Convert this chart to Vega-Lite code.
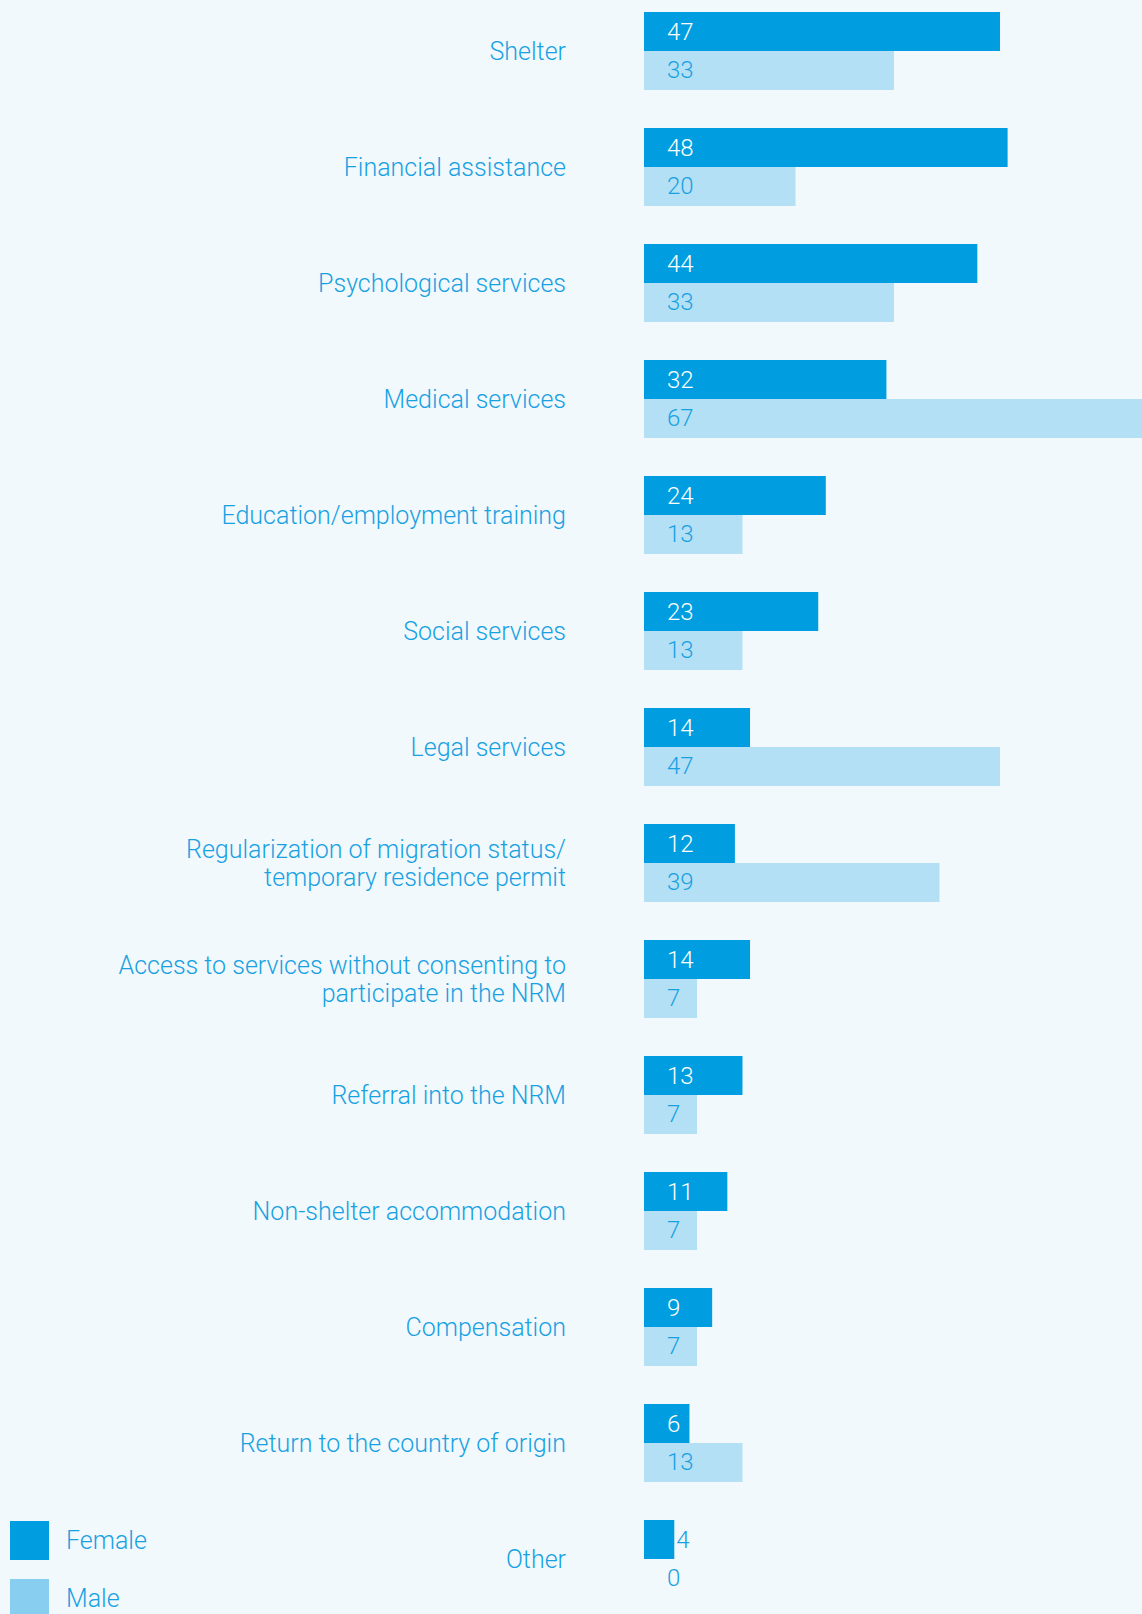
{
  "$schema": "https://vega.github.io/schema/vega-lite/v6.json",
  "autosize": {"type": "none"},
  "width": 498,
  "height": 1610,
  "padding": {"left": 644, "top": 0, "right": 0, "bottom": 4},
  "background": "#f2f9fd",
  "config": {"view": {"stroke": null}, "font": "Roboto"},
  "data": {"values": [
    {"category": "Shelter", "sex": "Female", "value": 47},
    {"category": "Shelter", "sex": "Male", "value": 33},
    {"category": "Financial assistance", "sex": "Female", "value": 48},
    {"category": "Financial assistance", "sex": "Male", "value": 20},
    {"category": "Psychological services", "sex": "Female", "value": 44},
    {"category": "Psychological services", "sex": "Male", "value": 33},
    {"category": "Medical services", "sex": "Female", "value": 32},
    {"category": "Medical services", "sex": "Male", "value": 67},
    {"category": "Education/employment training", "sex": "Female", "value": 24},
    {"category": "Education/employment training", "sex": "Male", "value": 13},
    {"category": "Social services", "sex": "Female", "value": 23},
    {"category": "Social services", "sex": "Male", "value": 13},
    {"category": "Legal services", "sex": "Female", "value": 14},
    {"category": "Legal services", "sex": "Male", "value": 47},
    {"category": "Regularization of migration status/|temporary residence permit", "sex": "Female", "value": 12},
    {"category": "Regularization of migration status/|temporary residence permit", "sex": "Male", "value": 39},
    {"category": "Access to services without consenting to|participate in the NRM", "sex": "Female", "value": 14},
    {"category": "Access to services without consenting to|participate in the NRM", "sex": "Male", "value": 7},
    {"category": "Referral into the NRM", "sex": "Female", "value": 13},
    {"category": "Referral into the NRM", "sex": "Male", "value": 7},
    {"category": "Non-shelter accommodation", "sex": "Female", "value": 11},
    {"category": "Non-shelter accommodation", "sex": "Male", "value": 7},
    {"category": "Compensation", "sex": "Female", "value": 9},
    {"category": "Compensation", "sex": "Male", "value": 7},
    {"category": "Return to the country of origin", "sex": "Female", "value": 6},
    {"category": "Return to the country of origin", "sex": "Male", "value": 13},
    {"category": "Other", "sex": "Female", "value": 4},
    {"category": "Other", "sex": "Male", "value": 0}
  ]},
  "encoding": {
    "y": {
      "field": "category", "type": "nominal", "sort": null,
      "scale": {"paddingInner": 0.32759, "paddingOuter": 0.10345},
      "axis": null
    }
  },
  "layer": [
    {
      "mark": {"type": "bar", "clip": true, "cornerRadius": 0},
      "encoding": {
        "yOffset": {"field": "sex", "type": "nominal", "sort": ["Female", "Male"], "scale": {"paddingInner": 0, "paddingOuter": 0}},
        "x": {"field": "value", "type": "quantitative", "scale": {"domain": [0, 65.74], "nice": false, "zero": true}, "axis": null},
        "color": {
          "field": "sex", "type": "nominal",
          "scale": {"domain": ["Female", "Male"], "range": ["#009ee0", "#87cef0"]},
          "legend": {
            "title": null, "orient": "none", "legendX": -634, "legendY": 1521,
            "padding": 0, "symbolType": "square", "symbolSize": 1521,
            "symbolStrokeWidth": 0, "rowPadding": 19, "labelOffset": 17,
            "labelFontSize": 25, "labelFontWeight": 300, "labelColor": "#18a1e2",
            "symbolOpacity": 1
          }
        },
        "opacity": {"condition": {"test": "datum.sex === 'Male'", "value": 0.59}, "value": 1}
      }
    },
    {
      "transform": [{"filter": "indexof(datum.category, '|') < 0 && datum.sex === 'Female'"}],
      "mark": {"type": "text", "align": "right", "baseline": "middle", "dx": -78, "dy": 1, "fontSize": 25, "fontWeight": 300, "color": "#18a1e2"},
      "encoding": {"x": {"datum": 0, "type": "quantitative"}, "text": {"field": "category"}}
    },
    {
      "transform": [{"filter": "indexof(datum.category, '|') >= 0 && datum.sex === 'Female'"}],
      "mark": {"type": "text", "align": "right", "baseline": "middle", "dx": -78, "dy": -13, "fontSize": 25, "fontWeight": 300, "color": "#18a1e2", "lineBreak": "|", "lineHeight": 28},
      "encoding": {"x": {"datum": 0, "type": "quantitative"}, "text": {"field": "category"}}
    },
    {
      "transform": [{"filter": "datum.sex === 'Female' && datum.value >= 5"}],
      "mark": {"type": "text", "align": "left", "baseline": "middle", "dx": 23, "dy": 1, "fontSize": 24, "fontWeight": 300, "color": "#ffffff"},
      "encoding": {
        "yOffset": {"field": "sex", "type": "nominal", "sort": ["Female", "Male"]},
        "x": {"datum": 0, "type": "quantitative"}, "text": {"field": "value"}}
    },
    {
      "transform": [{"filter": "datum.sex === 'Female' && datum.value < 5"}],
      "mark": {"type": "text", "align": "left", "baseline": "middle", "dx": 2, "dy": 1, "fontSize": 24, "fontWeight": 300, "color": "#18a1e2"},
      "encoding": {
        "yOffset": {"field": "sex", "type": "nominal", "sort": ["Female", "Male"]},
        "x": {"field": "value", "type": "quantitative"}, "text": {"field": "value"}}
    },
    {
      "transform": [{"filter": "datum.sex === 'Male'"}],
      "mark": {"type": "text", "align": "left", "baseline": "middle", "dx": 23, "dy": 1, "fontSize": 24, "fontWeight": 300, "color": "#18a1e2"},
      "encoding": {
        "yOffset": {"field": "sex", "type": "nominal", "sort": ["Female", "Male"]},
        "x": {"datum": 0, "type": "quantitative"}, "text": {"field": "value"}}
    }
  ]
}
